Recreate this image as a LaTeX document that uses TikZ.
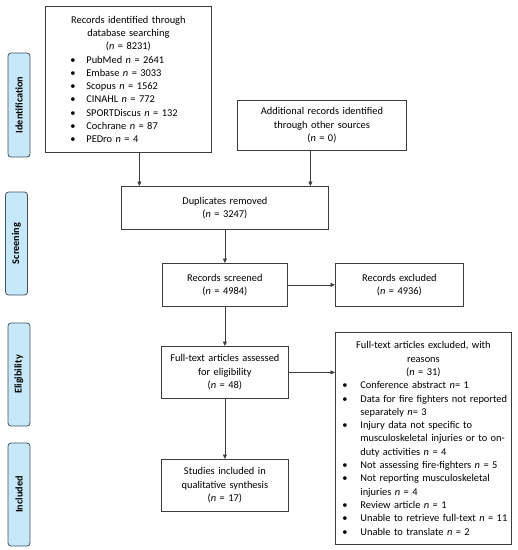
\documentclass[tikz,border=0pt]{standalone}
\usepackage{fontspec}
\setmainfont{Carlito}
\usetikzlibrary{arrows.meta}
\definecolor{lbl}{RGB}{198,232,248}
\definecolor{lblborder}{RGB}{65,80,95}
\definecolor{ln}{RGB}{60,60,60}
\newcommand{\bitemA}[1]{\mbox{\hspace*{25pt}\makebox[16pt][l]{\textbullet}#1}}
\newcommand{\bitemB}[1]{\mbox{\hspace*{7pt}\makebox[18pt][l]{\textbullet}#1}}
\newcommand{\contB}[1]{\mbox{\hspace*{25pt}#1}}
\begin{document}
\begin{tikzpicture}[x=1pt,y=-1pt,
  box/.style={draw=ln, line width=0.8pt, inner sep=0pt, anchor=north west,
    font=\fontsize{10.4}{13.3}\selectfont},
  arr/.style={draw=ln, line width=0.8pt, -{Triangle[length=4.5pt,width=4pt]}},
  phase/.style={draw=lblborder, fill=lbl, rounded corners=3pt, line width=0.8pt,
    minimum height=22pt, inner sep=0pt, rotate=90,
    font=\fontsize{10.2}{12}\selectfont\bfseries}]
\useasboundingbox (0,0) rectangle (518,550);

% phase labels
\node[phase, minimum width=104pt] (pid) at (19,105) {Identification};
\node[phase, minimum width=103pt] (pscr) at (16.5,243.5) {Screening};
\node[phase, minimum width=103pt] (pel) at (19,374.5) {Eligibility};
\node[phase, minimum width=103pt] (pinc) at (19,494.5) {Included};

% boxes
\node[box, text width=166pt, minimum height=146pt, align=left] (b1) at (45,6)
 {{\centering Records identified through\\database searching\\(\textit{n} = 8231)\par}
  \bitemA{PubMed \textit{n} = 2641}\\
  \bitemA{Embase \textit{n} = 3033}\\
  \bitemA{Scopus \textit{n} = 1562}\\
  \bitemA{CINAHL \textit{n} = 772}\\
  \bitemA{SPORTDiscus \textit{n} = 132}\\
  \bitemA{Cochrane \textit{n} = 87}\\
  \bitemA{PEDro \textit{n} = 4}};

\node[box, text width=169pt, minimum height=50pt, align=center] (b2) at (237,100)
 {Additional records identified\\through other sources\\(\textit{n} = 0)};

\node[box, text width=207pt, minimum height=43pt, align=center] (dup) at (121,186)
 {Duplicates removed\\(\textit{n} = 3247)};

\node[box, text width=125pt, minimum height=43pt, align=center] (scr) at (162,263)
 {Records screened\\(\textit{n} = 4984)};

\node[box, text width=128pt, minimum height=43pt, align=center] (rex) at (335,263)
 {Records excluded\\(\textit{n} = 4936)};

\node[box, text width=127pt, minimum height=52pt, align=center] (ft) at (161,346)
 {Full-text articles assessed\\for eligibility\\(\textit{n} = 48)};

\node[box, text width=176pt, minimum height=212pt, align=left] (fex) at (335,332)
 {{\centering Full-text articles excluded, with\\reasons\\(\textit{n} = 31)\par}
  \bitemB{Conference abstract \textit{n}= 1}\\
  \bitemB{Data for fire fighters not reported}\\
  \contB{separately \textit{n}= 3}\\
  \bitemB{Injury data not specific to}\\
  \contB{musculoskeletal injuries or to on-}\\
  \contB{duty activities \textit{n} = 4}\\
  \bitemB{Not assessing fire-fighters \textit{n} = 5}\\
  \bitemB{Not reporting musculoskeletal}\\
  \contB{injuries \textit{n} = 4}\\
  \bitemB{Review article \textit{n} = 1}\\
  \bitemB{Unable to retrieve full-text \textit{n} = 11}\\
  \bitemB{Unable to translate \textit{n} = 2}};

\node[box, text width=127pt, minimum height=52pt, align=center] (inc) at (161,459)
 {Studies included in\\qualitative synthesis\\(\textit{n} = 17)};

% connectors
\draw[arr] ([xshift=11pt]b1.south) -- ([xshift=11pt]b1.south |- dup.north);
\draw[arr] ([xshift=-11.5pt]b2.south) -- ([xshift=-11.5pt]b2.south |- dup.north);
\draw[arr] (dup.south) -- (dup.south |- scr.north);
\draw[arr] (scr.east) -- (scr.east -| rex.west);
\draw[arr] (scr.south) -- (scr.south |- ft.north);
\draw[arr] (ft.east) -- (ft.east -| fex.west);
\draw[arr] (ft.south) -- (ft.south |- inc.north);
\end{tikzpicture}
\end{document}
